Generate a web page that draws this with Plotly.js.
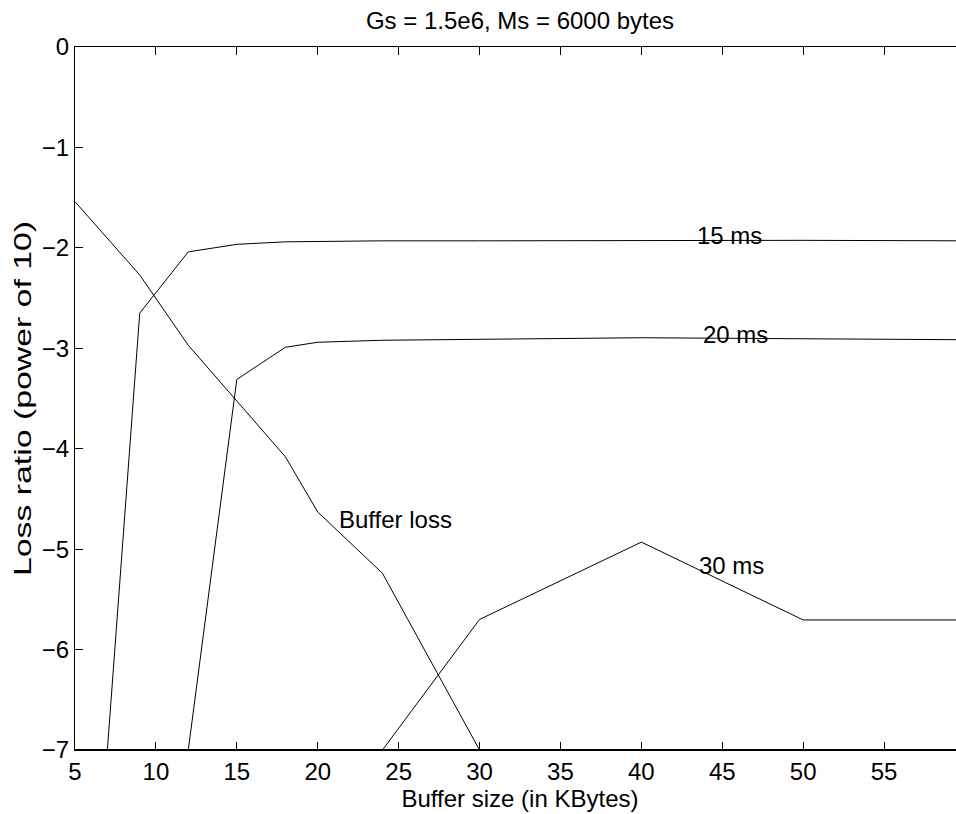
<!DOCTYPE html>
<html>
<head>
<meta charset="utf-8">
<script src="https://cdn.plot.ly/plotly-3.0.1.min.js"></script>
<style>
html,body{margin:0;padding:0;overflow:hidden;background:#fff;}
#chart{width:966px;height:814px;}
</style>
</head>
<body>
<div id="chart"></div>
<script>
// Data
const bufferX = [5, 7, 9, 12, 18, 20, 24, 30];
const bufferY = [-1.54, -1.9, -2.27, -2.97, -4.08, -4.63, -5.24, -7.0];

const ms15X = [7, 9, 12, 15, 18, 20, 24, 30, 40, 50, 60];
const ms15Y = [-7.0, -2.65, -2.04, -1.965, -1.94, -1.935, -1.93, -1.93, -1.925, -1.925, -1.93];

const ms20X = [12, 15, 18, 20, 24, 30, 40, 50, 60];
const ms20Y = [-7.0, -3.31, -2.99, -2.94, -2.92, -2.91, -2.895, -2.905, -2.915];

const ms30X = [24, 30, 40, 50, 60];
const ms30Y = [-7.0, -5.70, -4.93, -5.705, -5.705];

const xTicks = [5, 10, 15, 20, 25, 30, 35, 40, 45, 50, 55];
const yTicks = [0, -1, -2, -3, -4, -5, -6, -7];
const yTickText = ["0", "\u22121", "\u22122", "\u22123", "\u22124", "\u22125", "\u22126", "\u22127"];

const labels = [
  {text: "15 ms", x: 45.45, y: -1.88},
  {text: "20 ms", x: 45.8, y: -2.86},
  {text: "30 ms", x: 45.6, y: -5.16},
  {text: "Buffer loss", x: 24.8, y: -4.70}
];

const FONT = "Liberation Sans, Arial, Helvetica, sans-serif";
const lineStyle = {color: "#000", width: 1};

const traces = [
  {x: bufferX, y: bufferY, mode: "lines", line: lineStyle, name: "Buffer loss"},
  {x: ms15X, y: ms15Y, mode: "lines", line: lineStyle, name: "15 ms"},
  {x: ms20X, y: ms20Y, mode: "lines", line: lineStyle, name: "20 ms"},
  {x: ms30X, y: ms30Y, mode: "lines", line: lineStyle, name: "30 ms"}
];

const layout = {
  width: 966, height: 814,
  margin: {l: 75, r: 1, t: 47, b: 64},
  paper_bgcolor: "#fff", plot_bgcolor: "#fff",
  showlegend: false,
  font: {family: FONT, size: 24, color: "#000"},
  title: {
    text: "Gs = 1.5e6, Ms = 6000 bytes",
    font: {family: FONT, size: 24, color: "#000"},
    x: 520 / 966, xref: "container", xanchor: "center",
    y: 1 - 21 / 814, yref: "container", yanchor: "middle"
  },
  xaxis: {
    range: [5, 60],
    tickvals: xTicks,
    ticktext: xTicks.map(String),
    ticks: "inside", ticklen: 8, tickwidth: 1, tickcolor: "#000",
    showline: true, linecolor: "#000", linewidth: 1, mirror: "ticks",
    showgrid: false, zeroline: false,
    tickfont: {family: FONT, size: 24, color: "#000"},
    title: {text: "Buffer size (in KBytes)", font: {family: FONT, size: 24, color: "#000"}, standoff: 2}
  },
  yaxis: {
    range: [-7, 0],
    tickvals: yTicks,
    ticktext: yTickText,
    ticks: "inside", ticklen: 8, tickwidth: 1, tickcolor: "#000",
    showline: true, linecolor: "#000", linewidth: 1, mirror: "ticks",
    showgrid: false, zeroline: false,
    tickfont: {family: FONT, size: 24, color: "#000"},
    title: {text: "Loss ratio (power of 10)", font: {family: FONT, size: 24, color: "#000"}, standoff: 3}
  },
  shapes: [
    {type: "line", xref: "paper", yref: "paper", x0: 0, x1: 1, y0: 0, y1: 0, line: {color: "#000", width: 2}}
  ],
  annotations: labels.map(l => ({
    text: l.text, x: l.x, y: l.y, xref: "x", yref: "y",
    showarrow: false, xanchor: "center", yanchor: "middle",
    font: {family: FONT, size: 24, color: "#000"}
  }))
};

Plotly.newPlot("chart", traces, layout, {displayModeBar: false, staticPlot: true}).then(gd => {
  // the reference's y-axis label is drawn stretched along its length
  const t = gd.querySelector("text.ytitle");
  if (t) {
    t.setAttribute("textLength", "355");
    t.setAttribute("lengthAdjust", "spacingAndGlyphs");
  }
});
</script>
</body>
</html>
